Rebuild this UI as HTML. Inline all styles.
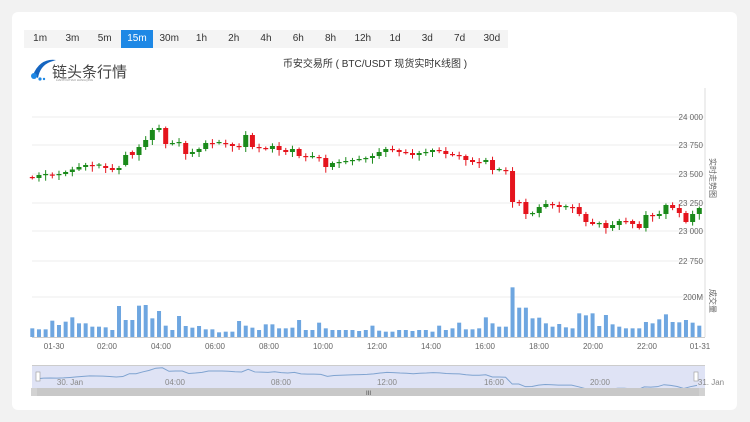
<!DOCTYPE html>
<html><head><meta charset="utf-8"><style>
body{margin:0;background:#f2f2f2;width:750px;height:422px;overflow:hidden;font-family:"Liberation Sans","Noto Sans CJK SC",sans-serif}
#card{position:absolute;left:12px;top:12px;width:725px;height:398px;background:#fff;border-radius:6px}
#bar{position:absolute;left:24px;top:30px;width:484px;height:18px;background:#f4f4f4;display:flex}
#bar div{width:32.3px;text-align:center;font-size:10px;line-height:18px;color:#333}
#bar div.a{background:#1e88e5;color:#fff}
svg{position:absolute;left:0;top:0}
</style></head><body>
<div id="card"></div>
<div id="bar"><div>1m</div><div>3m</div><div>5m</div><div class="a">15m</div><div>30m</div><div>1h</div><div>2h</div><div>4h</div><div>6h</div><div>8h</div><div>12h</div><div>1d</div><div>3d</div><div>7d</div><div>30d</div></div>
<svg id="s" width="750" height="422" xmlns="http://www.w3.org/2000/svg"></svg>
<script>
var s='';
// logo
s+='<path d="M33 75 Q40 58 56 60 L50 62 Q40 66 38 78 Z" fill="#1565c0"/><circle cx="34" cy="76" r="3" fill="#1e88e5"/><circle cx="40" cy="79" r="1.6" fill="#1e88e5"/><circle cx="44" cy="79" r="1.2" fill="#1e88e5"/>';
s+='<text x="52" y="77" font-size="15" fill="#444" font-family="Liberation Sans,Noto Sans CJK SC,sans-serif">链头条行情</text>';
s+='<text x="56" y="81" font-size="3" fill="#888">LIANTOUTIAO HANGQING</text>';
s+='<text x="375" y="67" font-size="10" fill="#333" text-anchor="middle">币安交易所 ( BTC/USDT 现货实时K线图 )</text>';
// grid
[117,145,174,203,231,261].forEach(function(y,i){s+='<line x1="32" x2="704" y1="'+y+'" y2="'+y+'" stroke="#ececec"/>';});
var labs=['24 000','23 750','23 500','23 250','23 000','22 750'];
[117,145,174,203,231,261].forEach(function(y,i){s+='<text x="703" y="'+(y+3)+'" font-size="8" fill="#666" text-anchor="end">'+labs[i]+'</text>';});
s+='<line x1="32" x2="704" y1="297" y2="297" stroke="#ececec"/>';
s+='<text x="703" y="300" font-size="8" fill="#666" text-anchor="end">200M</text>';
s+='<line x1="705" x2="705" y1="88" y2="337" stroke="#ddd"/>';
s+='<text transform="translate(710,158) rotate(90)" font-size="8" fill="#666">实时走势图</text>';
s+='<text transform="translate(710,289) rotate(90)" font-size="8" fill="#666">成交量</text>';
s+='<line x1="32" x2="705" y1="337.5" y2="337.5" stroke="#ccc"/>';
var c=[178,175,174.5,175,174,172,169.5,167,165,165.5,166,168,170,168,155,155,147,140,130,128,144,143,143,154,152,149,143,143,143,144,146,147,135,147,148,149,146,150,152,149,156,157,157,158,167,163,162,161,160,159,158,156,152,
149,150,152,153,155,153,152,150,151,154,155,156,160,162,162,160,170,170,171,202,202,214,213,207,204,205,207,207,207,214,222,224,223,228,225,221,221,224,228,215,216,214,205,208,213,222,214,208];
var o0=177;
for(var i=0;i<c.length;i++){var x=32.3+i*6.67;var o=i?c[i-1]:o0;if(i==14)o=165;if(i==32)o=147;if(i==33)o=135;if(i==15)o=152;
var cl=c[i];if(Math.abs(cl-o)<1)cl=o+(i%2?1:-1);var up=cl<o;var col=up?'#1a8a1a':'#e5141d';
var t=Math.min(o,cl),b=Math.max(o,cl);var hi=t-1.5-(i*7%5)*0.6,lo=b+1.5+(i*3%7)*0.7;
s+='<line x1="'+x+'" x2="'+x+'" y1="'+hi+'" y2="'+lo+'" stroke="'+col+'" stroke-width="1"/>';
s+='<rect x="'+(x-2.5)+'" y="'+t+'" width="5" height="'+Math.max(b-t,1.2)+'" fill="'+col+'"/>';}
var v=[145,148,148,122,135,125,112,130,130,140,140,142,150,78,120,120,77,75,115,93,137,150,108,138,143,138,148,148,157,155,155,123,137,143,150,133,133,145,145,143,120,150,150,128,145,150,150,150,150,153,150,137,152,155,155,150,150,153,150,150,155,137,150,145,128,148,148,145,112,130,140,140,22,83,83,115,113,130,140,132,142,145,100,106,100,138,105,133,140,145,145,145,126,130,118,103,126,127,120,128,137];
for(var i=0;i<101;i++){var x=32.3+i*6.67;var yt=280+v[i]/3;s+='<rect x="'+(x-2)+'" y="'+yt+'" width="4" height="'+(337-yt)+'" fill="#6ea6e0"/>';}
var tl=[['01-30',54],['02:00',107],['04:00',161],['06:00',215],['08:00',269],['10:00',323],['12:00',377],['14:00',431],['16:00',485],['18:00',539],['20:00',593],['22:00',647],['01-31',700]];
tl.forEach(function(a){s+='<text x="'+a[1]+'" y="349" font-size="8" fill="#666" text-anchor="middle">'+a[0]+'</text>';});
// navigator
s+='<rect x="32" y="366" width="673" height="22" fill="#dfe3f5"/><line x1="32" x2="705" y1="365.5" y2="365.5" stroke="#ccc"/>';
var p='M37 378';for(var i=0;i<101;i++){p+=' L'+(37+i*6.6)+' '+(366+(c[i]-120)*0.22);}
s+='<path d="'+p+'" fill="none" stroke="#7fa3d0" stroke-width="1"/>';
s+='<rect x="36" y="372" width="4" height="9" fill="#fff" stroke="#999" stroke-width="0.6"/><rect x="694" y="372" width="4" height="9" fill="#fff" stroke="#999" stroke-width="0.6"/>';
[['30. Jan',70],['04:00',175],['08:00',281],['12:00',387],['16:00',494],['20:00',600],['31. Jan',711]].forEach(function(a){s+='<text x="'+a[1]+'" y="385" font-size="8" fill="#888" text-anchor="middle">'+a[0]+'</text>';});
s+='<rect x="31" y="388" width="674" height="8" fill="#d2d2d2"/><rect x="37" y="388" width="662" height="8" fill="#c8c8c8"/>';
s+='<text x="366" y="395" font-size="6" fill="#444">III</text>';
document.getElementById('s').innerHTML=s;
</script>
</body></html>
